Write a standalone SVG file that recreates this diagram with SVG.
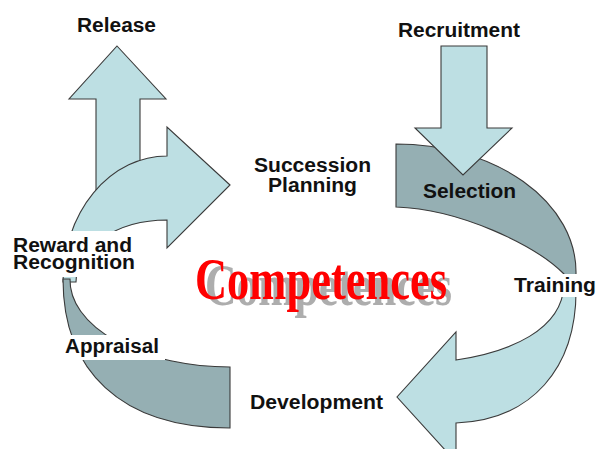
<svg xmlns="http://www.w3.org/2000/svg" width="596" height="449" viewBox="0 0 596 449">
<style>
.lb{fill:#bddfe3;stroke:#3a3a3a;stroke-width:1.1;stroke-linejoin:miter}
.dg{fill:#95afb3;stroke:#3a3a3a;stroke-width:1.1}
.bg{fill:#ffffff;stroke:none}
.t{font-family:"Liberation Sans",Arial,sans-serif;font-weight:bold;font-size:20px;fill:#111}
.big{font-family:"Liberation Serif","Times New Roman",serif;font-weight:bold;font-size:60px}
</style>
<rect width="596" height="449" fill="#ffffff"/>
<g id="connectors">
  <path id="release-arrow" class="lb" d="M117 46 L166 99 L140 99 L140 205 L96 205 L96 99 L69 99 Z"/>
  <path id="upper-left-arrow" class="lb" d="M230 185 L167 127 L167 156 A104 126 0 0 0 63 282 L76 282 A91 62 0 0 1 167 220 L167 248 Z"/>
  <path id="lower-left-band" class="dg" d="M63 279 L70 279 A160 87 0 0 0 230 367 L230 428 C120 428 63 370 63 279 Z"/>
  <path id="upper-right-band" class="dg" d="M396 144 A180 128 0 0 1 576 272 L576 284 L564 284 L564 274 C535 245 460 209 396 207 Z"/>
  <path id="recruitment-arrow" class="lb" d="M441 46 L487 46 L487 128 L512 128 L463 175 L415 128 L441 128 Z"/>
  <path id="lower-right-arrow" class="lb" d="M576 285 C578 370 530 420 456 423 L456 462 L397 397 L456 332 L456 360 C510 352 562 330 564 285 Z"/>
</g>
<g id="center">
  <text class="big" x="205" y="305" fill="#adadad" textLength="247" lengthAdjust="spacingAndGlyphs">Competences</text>
  <text class="big" x="195" y="299" fill="#ff0000" textLength="252" lengthAdjust="spacingAndGlyphs">Competences</text>
</g>
<g id="release"><text class="t" x="77" y="32" textLength="79" lengthAdjust="spacingAndGlyphs">Release</text></g>
<g id="recruitment"><text class="t" x="398" y="37" textLength="122" lengthAdjust="spacingAndGlyphs">Recruitment</text></g>
<g id="succession">
  <text class="t" x="254" y="172" textLength="117" lengthAdjust="spacingAndGlyphs">Succession</text>
  <text class="t" x="268" y="192" textLength="89" lengthAdjust="spacingAndGlyphs">Planning</text>
</g>
<g id="selection"><text class="t" x="423" y="198" textLength="93" lengthAdjust="spacingAndGlyphs">Selection</text></g>
<g id="reward">
  <rect class="bg" x="8" y="231" width="132" height="46"/>
  <text class="t" x="13" y="252" textLength="119" lengthAdjust="spacingAndGlyphs">Reward and</text>
  <text class="t" x="13" y="269" textLength="122" lengthAdjust="spacingAndGlyphs">Recognition</text>
</g>
<g id="appraisal">
  <rect class="bg" x="58" y="335" width="107" height="25"/>
  <text class="t" x="65" y="353" textLength="94" lengthAdjust="spacingAndGlyphs">Appraisal</text>
</g>
<g id="training">
  <rect class="bg" x="508" y="274" width="88" height="23"/>
  <text class="t" x="514" y="292" textLength="82" lengthAdjust="spacingAndGlyphs">Training</text>
</g>
<g id="development"><text class="t" x="250" y="409" textLength="133" lengthAdjust="spacingAndGlyphs">Development</text></g>
</svg>
